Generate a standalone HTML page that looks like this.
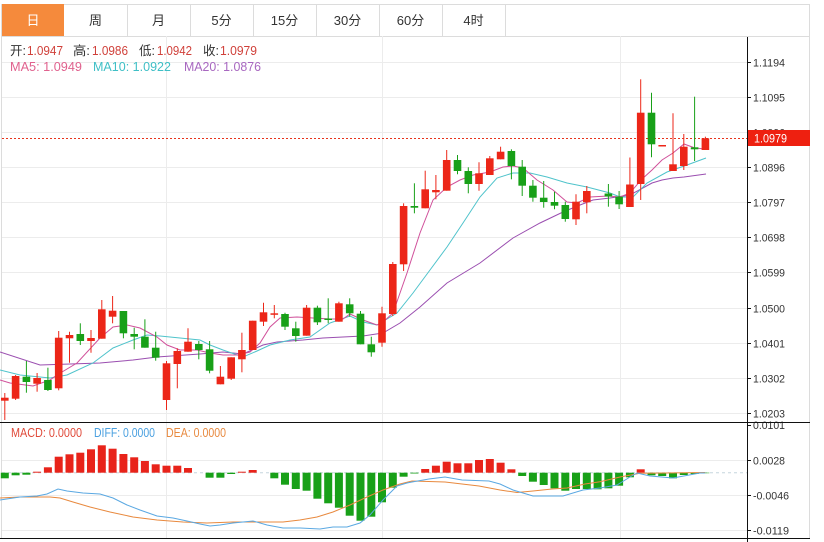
<!DOCTYPE html>
<html><head><meta charset="utf-8"><style>
html,body{margin:0;padding:0;background:#fff;width:824px;height:542px;overflow:hidden}
svg{display:block}
text{font-family:"Liberation Sans","Noto Sans CJK SC",sans-serif}
</style></head><body>
<svg width="824" height="542" viewBox="0 0 824 542" xmlns="http://www.w3.org/2000/svg">
<!-- tab bar -->
<rect x="1.5" y="4.5" width="808" height="32" fill="#fff" stroke="#dcdcdc"/>
<rect x="2" y="4" width="62" height="32" fill="#f58a3c"/>
<g stroke="#dcdcdc"><line x1="127.5" y1="4" x2="127.5" y2="36"/><line x1="190.5" y1="4" x2="190.5" y2="36"/><line x1="253.5" y1="4" x2="253.5" y2="36"/><line x1="316.5" y1="4" x2="316.5" y2="36"/><line x1="379.5" y1="4" x2="379.5" y2="36"/><line x1="442.5" y1="4" x2="442.5" y2="36"/><line x1="505.5" y1="4" x2="505.5" y2="36"/></g>
<g font-size="13" text-anchor="middle" fill="#333">
<text x="33" y="25" fill="#fff">日</text><text x="95.5" y="25">周</text><text x="158.5" y="25">月</text><text x="221.5" y="25">5分</text><text x="284.5" y="25">15分</text><text x="347.5" y="25">30分</text><text x="410.5" y="25">60分</text><text x="473.5" y="25">4时</text>
</g>
<!-- borders -->
<line x1="1.5" y1="36" x2="1.5" y2="539" stroke="#dcdcdc"/>
<line x1="809.5" y1="36" x2="809.5" y2="539" stroke="#dcdcdc"/>
<!-- grid -->
<g stroke="#ececec" stroke-width="1">
<line x1="2" y1="62.5" x2="747" y2="62.5"/><line x1="2" y1="97.5" x2="747" y2="97.5"/><line x1="2" y1="132.5" x2="747" y2="132.5"/><line x1="2" y1="167.5" x2="747" y2="167.5"/><line x1="2" y1="202.5" x2="747" y2="202.5"/><line x1="2" y1="237.5" x2="747" y2="237.5"/><line x1="2" y1="272.5" x2="747" y2="272.5"/><line x1="2" y1="308.5" x2="747" y2="308.5"/><line x1="2" y1="343.5" x2="747" y2="343.5"/><line x1="2" y1="378.5" x2="747" y2="378.5"/><line x1="2" y1="413.5" x2="747" y2="413.5"/>
<line x1="2" y1="460.5" x2="747" y2="460.5"/><line x1="2" y1="495.5" x2="747" y2="495.5"/><line x1="2" y1="530.5" x2="747" y2="530.5"/>
<line x1="166.5" y1="36" x2="166.5" y2="538"/><line x1="382.5" y1="36" x2="382.5" y2="538"/><line x1="620.5" y1="36" x2="620.5" y2="538"/>
</g>
<!-- legend -->
<g font-size="12.5">
<text x="10" y="55" fill="#333" textLength="16" lengthAdjust="spacingAndGlyphs">开:</text><text x="27" y="55" fill="#d0403a" textLength="36" lengthAdjust="spacingAndGlyphs">1.0947</text>
<text x="73" y="55" fill="#333" textLength="17" lengthAdjust="spacingAndGlyphs">高:</text><text x="92" y="55" fill="#d0403a" textLength="36" lengthAdjust="spacingAndGlyphs">1.0986</text>
<text x="139" y="55" fill="#333" textLength="16" lengthAdjust="spacingAndGlyphs">低:</text><text x="157" y="55" fill="#d0403a" textLength="35" lengthAdjust="spacingAndGlyphs">1.0942</text>
<text x="203" y="55" fill="#333" textLength="16" lengthAdjust="spacingAndGlyphs">收:</text><text x="220" y="55" fill="#d0403a" textLength="37" lengthAdjust="spacingAndGlyphs">1.0979</text>
<text x="10" y="71" fill="#e0628e" textLength="72" lengthAdjust="spacingAndGlyphs">MA5: 1.0949</text>
<text x="93" y="71" fill="#3fbfc6" textLength="78" lengthAdjust="spacingAndGlyphs">MA10: 1.0922</text>
<text x="184" y="71" fill="#a868c0" textLength="77" lengthAdjust="spacingAndGlyphs">MA20: 1.0876</text>
</g>
<!-- current price dotted -->
<line x1="2" y1="138.5" x2="747" y2="138.5" stroke="#e8341c" stroke-dasharray="2,2"/>
<!-- MA lines -->
<g fill="none" stroke-width="1">
<polyline stroke="#9a4eb0" points="0,352 40,365 100,363 133,360 157,357 200,354 223,352 243,354 263,345 277,342 303,340 323,338 343,337 363,336 383,333 400,323 420,307 447,283 480,263 513,238 540,223 563,212 580,205 593,200 610,198 630,195 641,189 652,183 662,180 673,178 684,177 706,174"/>
<polyline stroke="#4fc3cb" points="0,370 20,375 50,378 67,375 93,363 113,348 133,340 147,335 160,336 180,338 200,340 210,345 223,350 243,357 257,351 270,345 290,340 310,337 330,323 350,316 363,322 377,325 382,322 397,313 413,293 430,270 447,247 463,223 480,197 497,178 513,173 530,173 547,177 567,183 587,187 610,193 620,197 633,197 647,183 667,172 687,165 706,158"/>
<polyline stroke="#d0509a" points="0,380 10,383 33,386 50,380 57,375 77,363 100,338 113,327 127,325 140,328 157,337 167,345 180,350 197,350 210,353 223,355 237,355 250,352 260,343 270,327 280,318 297,317 313,318 330,319 343,319 350,314 363,320 377,325 382,323 393,313 407,273 420,233 433,200 447,187 460,180 473,175 490,172 503,167 513,166 523,168 537,180 553,190 567,202 577,203 590,197 608,196 620,197 630,193 641,180 652,170 662,160 673,153 684,144 695,148 705,149"/>
</g>
<!-- candles -->
<g id="c">
<g stroke="#ec2618" fill="#ec2618">
<line x1="4.8" y1="393" x2="4.8" y2="420"/><rect x="1" y="397.7" width="7.6" height="3" stroke="none"/>
<line x1="15.6" y1="375" x2="15.6" y2="400"/><rect x="11.8" y="376" width="7.6" height="22.7" stroke="none"/>
<line x1="37.1" y1="373" x2="37.1" y2="391.7"/><rect x="33.3" y="378" width="7.6" height="5.7" stroke="none"/>
<line x1="58.7" y1="331" x2="58.7" y2="390.3"/><rect x="54.9" y="337.7" width="7.6" height="50.6" stroke="none"/>
<line x1="69.5" y1="331.7" x2="69.5" y2="362.7"/><rect x="65.7" y="335" width="7.6" height="3.3" stroke="none"/>
<line x1="91" y1="330" x2="91" y2="352.7"/><rect x="87.2" y="338" width="7.6" height="3" stroke="none"/>
<line x1="101.8" y1="300" x2="101.8" y2="338.7"/><rect x="98" y="309.3" width="7.6" height="29.4" stroke="none"/>
<line x1="112.6" y1="296" x2="112.6" y2="323.3"/><rect x="108.8" y="310.7" width="7.6" height="6" stroke="none"/>
<line x1="166.5" y1="361" x2="166.5" y2="410"/><rect x="162.7" y="363.3" width="7.6" height="36.7" stroke="none"/>
<line x1="177.3" y1="348.3" x2="177.3" y2="388.3"/><rect x="173.5" y="351" width="7.6" height="13" stroke="none"/>
<line x1="188" y1="328.3" x2="188" y2="351.7"/><rect x="184.2" y="341.7" width="7.6" height="10" stroke="none"/>
<line x1="220.4" y1="366" x2="220.4" y2="384.3"/><rect x="216.6" y="376.7" width="7.6" height="7.6" stroke="none"/>
<line x1="231.2" y1="357.3" x2="231.2" y2="380"/><rect x="227.4" y="357.3" width="7.6" height="21.4" stroke="none"/>
<line x1="241.9" y1="332.7" x2="241.9" y2="372.3"/><rect x="238.1" y="350" width="7.6" height="9.3" stroke="none"/>
<line x1="252.7" y1="320.7" x2="252.7" y2="350"/><rect x="248.9" y="320.7" width="7.6" height="29.3" stroke="none"/>
<line x1="263.5" y1="302.7" x2="263.5" y2="326"/><rect x="259.7" y="312.3" width="7.6" height="9.4" stroke="none"/>
<line x1="274.3" y1="305" x2="274.3" y2="318.3"/><rect x="270.5" y="313.3" width="7.6" height="1.5" stroke="none"/>
<line x1="306.6" y1="305" x2="306.6" y2="335.7"/><rect x="302.8" y="307.7" width="7.6" height="28" stroke="none"/>
<line x1="338.9" y1="301.7" x2="338.9" y2="321.7"/><rect x="335.1" y="303.3" width="7.6" height="18.4" stroke="none"/>
<line x1="382" y1="306.7" x2="382" y2="346.7"/><rect x="378.2" y="313.3" width="7.6" height="29.4" stroke="none"/>
<line x1="392.8" y1="262" x2="392.8" y2="316"/><rect x="389" y="264" width="7.6" height="50" stroke="none"/>
<line x1="403.6" y1="203.3" x2="403.6" y2="271"/><rect x="399.8" y="206" width="7.6" height="58.3" stroke="none"/>
<line x1="425.2" y1="170.7" x2="425.2" y2="208.3"/><rect x="421.4" y="189.3" width="7.6" height="19" stroke="none"/>
<line x1="435.9" y1="175" x2="435.9" y2="199.3"/><rect x="432.1" y="190" width="7.6" height="2.3" stroke="none"/>
<line x1="446.7" y1="150" x2="446.7" y2="190.7"/><rect x="442.9" y="160" width="7.6" height="30.7" stroke="none"/>
<line x1="479" y1="162.3" x2="479" y2="190.7"/><rect x="475.2" y="173.3" width="7.6" height="10.7" stroke="none"/>
<line x1="489.8" y1="156" x2="489.8" y2="175"/><rect x="486" y="158.3" width="7.6" height="16.7" stroke="none"/>
<line x1="500.6" y1="146.7" x2="500.6" y2="159.3"/><rect x="496.8" y="151.7" width="7.6" height="7.6" stroke="none"/>
<line x1="576" y1="194.3" x2="576" y2="225"/><rect x="572.2" y="201.7" width="7.6" height="17.6" stroke="none"/>
<line x1="586.8" y1="186" x2="586.8" y2="213.3"/><rect x="583" y="191" width="7.6" height="11.3" stroke="none"/>
<line x1="629.9" y1="157.5" x2="629.9" y2="207"/><rect x="626.1" y="184.5" width="7.6" height="22.5" stroke="none"/>
<line x1="640.7" y1="79.3" x2="640.7" y2="200"/><rect x="636.9" y="112.7" width="7.6" height="71.3" stroke="none"/>
<rect x="658.4" y="145" width="7.6" height="1.5" stroke="none"/>
<line x1="673" y1="113.3" x2="673" y2="171"/><rect x="669.2" y="164.3" width="7.6" height="6.7" stroke="none"/>
<line x1="683.8" y1="134" x2="683.8" y2="170"/><rect x="680" y="146.7" width="7.6" height="19.3" stroke="none"/>
<line x1="705.4" y1="136.7" x2="705.4" y2="150"/><rect x="701.6" y="138.3" width="7.6" height="11.7" stroke="none"/>
</g>
<g stroke="#18a018" fill="#18a018">
<line x1="26.4" y1="361" x2="26.4" y2="392.7"/><rect x="22.6" y="376.7" width="7.6" height="5.3" stroke="none"/>
<line x1="47.9" y1="367.7" x2="47.9" y2="391"/><rect x="44.1" y="380" width="7.6" height="10" stroke="none"/>
<line x1="80.3" y1="323.3" x2="80.3" y2="345"/><rect x="76.5" y="334" width="7.6" height="7" stroke="none"/>
<line x1="123.4" y1="311" x2="123.4" y2="338.3"/><rect x="119.6" y="311" width="7.6" height="22.3" stroke="none"/>
<line x1="134.2" y1="327.7" x2="134.2" y2="349.3"/><rect x="130.4" y="334" width="7.6" height="2.7" stroke="none"/>
<line x1="144.9" y1="319.3" x2="144.9" y2="347.7"/><rect x="141.1" y="336.7" width="7.6" height="11" stroke="none"/>
<line x1="155.7" y1="331.7" x2="155.7" y2="360.7"/><rect x="151.9" y="347.7" width="7.6" height="10" stroke="none"/>
<line x1="198.8" y1="341" x2="198.8" y2="359.3"/><rect x="195" y="344" width="7.6" height="6" stroke="none"/>
<line x1="209.6" y1="341" x2="209.6" y2="373.3"/><rect x="205.8" y="349.3" width="7.6" height="21.4" stroke="none"/>
<line x1="285" y1="312.7" x2="285" y2="330"/><rect x="281.2" y="314" width="7.6" height="12.7" stroke="none"/>
<line x1="295.8" y1="321.7" x2="295.8" y2="341.7"/><rect x="292" y="328.3" width="7.6" height="7.7" stroke="none"/>
<line x1="317.4" y1="305.7" x2="317.4" y2="325"/><rect x="313.6" y="307.7" width="7.6" height="14.6" stroke="none"/>
<line x1="328.2" y1="298.3" x2="328.2" y2="323.3"/><rect x="324.4" y="318.5" width="7.6" height="1.5" stroke="none"/>
<line x1="349.7" y1="298.3" x2="349.7" y2="316.7"/><rect x="345.9" y="304.3" width="7.6" height="9" stroke="none"/>
<line x1="360.5" y1="311" x2="360.5" y2="344.3"/><rect x="356.7" y="313.7" width="7.6" height="30.6" stroke="none"/>
<line x1="371.3" y1="336.7" x2="371.3" y2="356.7"/><rect x="367.5" y="344.3" width="7.6" height="8" stroke="none"/>
<line x1="414.4" y1="183.3" x2="414.4" y2="213.3"/><rect x="410.6" y="206" width="7.6" height="1.7" stroke="none"/>
<line x1="457.5" y1="155" x2="457.5" y2="174.3"/><rect x="453.7" y="160" width="7.6" height="11" stroke="none"/>
<line x1="468.3" y1="167.3" x2="468.3" y2="193.3"/><rect x="464.5" y="171" width="7.6" height="13" stroke="none"/>
<line x1="511.4" y1="149.3" x2="511.4" y2="179.3"/><rect x="507.6" y="151" width="7.6" height="15" stroke="none"/>
<line x1="522.2" y1="160" x2="522.2" y2="196"/><rect x="518.4" y="166.7" width="7.6" height="19" stroke="none"/>
<line x1="532.9" y1="180" x2="532.9" y2="201.7"/><rect x="529.1" y="185.7" width="7.6" height="12" stroke="none"/>
<line x1="543.7" y1="181" x2="543.7" y2="207.7"/><rect x="539.9" y="197.7" width="7.6" height="4.3" stroke="none"/>
<line x1="554.5" y1="191.7" x2="554.5" y2="209.3"/><rect x="550.7" y="202" width="7.6" height="3.7" stroke="none"/>
<line x1="565.3" y1="201.7" x2="565.3" y2="221.7"/><rect x="561.5" y="205" width="7.6" height="14" stroke="none"/>
<line x1="608.4" y1="184" x2="608.4" y2="206.7"/><rect x="604.6" y="193.5" width="7.6" height="3" stroke="none"/>
<line x1="619.1" y1="191" x2="619.1" y2="209"/><rect x="615.3" y="196.7" width="7.6" height="7.6" stroke="none"/>
<line x1="651.5" y1="92.7" x2="651.5" y2="157.3"/><rect x="647.7" y="112.7" width="7.6" height="31.6" stroke="none"/>
<line x1="694.6" y1="96.7" x2="694.6" y2="161"/><rect x="690.8" y="147.3" width="7.6" height="2" stroke="none"/>
</g>
</g>
<!-- separator lines -->
<line x1="0" y1="422.5" x2="810" y2="422.5" stroke="#111"/>
<line x1="0" y1="538.5" x2="810" y2="538.5" stroke="#111"/>
<line x1="747.5" y1="37" x2="747.5" y2="542" stroke="#111"/>
<!-- MACD zero line -->
<line x1="2" y1="472.7" x2="747" y2="472.7" stroke="#c5d5de" stroke-dasharray="3,3"/>
<!-- MACD bars -->
<g fill="#e8231a">
<rect x="33.1" y="471.7" width="8" height="1"/><rect x="43.9" y="467.3" width="8" height="5.4"/><rect x="54.7" y="456.7" width="8" height="16"/><rect x="65.5" y="454.3" width="8" height="18.4"/><rect x="76.3" y="452.7" width="8" height="20"/><rect x="87" y="449.3" width="8" height="23.4"/><rect x="97.8" y="445.3" width="8" height="27.4"/><rect x="108.6" y="448.7" width="8" height="24"/><rect x="119.4" y="454" width="8" height="18.7"/><rect x="130.2" y="457.3" width="8" height="15.4"/><rect x="140.9" y="461" width="8" height="11.7"/><rect x="151.7" y="464.3" width="8" height="8.4"/><rect x="162.5" y="465.7" width="8" height="7"/><rect x="173.3" y="465.7" width="8" height="7"/><rect x="184" y="468" width="8" height="4.7"/>
<rect x="237.9" y="471.7" width="8" height="1"/><rect x="248.7" y="470" width="8" height="2.7"/>
<rect x="421.2" y="469" width="8" height="3.7"/><rect x="431.9" y="465.7" width="8" height="7"/><rect x="442.7" y="461.7" width="8" height="11"/><rect x="453.5" y="463.3" width="8" height="9.4"/><rect x="464.3" y="463.3" width="8" height="9.4"/><rect x="475" y="460" width="8" height="12.7"/><rect x="485.8" y="459" width="8" height="13.7"/><rect x="496.6" y="462.7" width="8" height="10"/><rect x="507.4" y="469.3" width="8" height="3.4"/>
<rect x="636.7" y="469.3" width="8" height="3.4"/>
</g>
<g fill="#18a018">
<rect x="0.8" y="472.7" width="8" height="5.6"/><rect x="11.6" y="472.7" width="8" height="2.6"/><rect x="22.4" y="472.7" width="8" height="2"/>
<rect x="205.6" y="472.7" width="8" height="5"/><rect x="216.4" y="472.7" width="8" height="5"/><rect x="227.2" y="472.7" width="8" height="1.3"/>
<rect x="270.3" y="472.7" width="8" height="5.6"/><rect x="281" y="472.7" width="8" height="12"/><rect x="291.8" y="472.7" width="8" height="16.3"/><rect x="302.6" y="472.7" width="8" height="18"/><rect x="313.4" y="472.7" width="8" height="26"/><rect x="324.2" y="472.7" width="8" height="30.6"/><rect x="334.9" y="472.7" width="8" height="35"/><rect x="345.7" y="472.7" width="8" height="43"/><rect x="356.5" y="472.7" width="8" height="48"/><rect x="367.3" y="472.7" width="8" height="44"/><rect x="378" y="472.7" width="8" height="29.6"/><rect x="388.8" y="472.7" width="8" height="15"/><rect x="399.6" y="472.7" width="8" height="4"/><rect x="410.4" y="472.7" width="8" height="0.8"/>
<rect x="518.2" y="472.7" width="8" height="3.3"/><rect x="528.9" y="472.7" width="8" height="9"/><rect x="539.7" y="472.7" width="8" height="12.3"/><rect x="550.5" y="472.7" width="8" height="15.6"/><rect x="561.3" y="472.7" width="8" height="18"/><rect x="572" y="472.7" width="8" height="16.3"/><rect x="582.8" y="472.7" width="8" height="16.3"/><rect x="593.6" y="472.7" width="8" height="16.6"/><rect x="604.4" y="472.7" width="8" height="15.6"/><rect x="615.1" y="472.7" width="8" height="13"/><rect x="625.9" y="472.7" width="8" height="4.6"/>
<rect x="647.5" y="472.7" width="8" height="2.6"/><rect x="658.2" y="472.7" width="8" height="3.3"/><rect x="669" y="472.7" width="8" height="5.6"/><rect x="679.8" y="472.7" width="8" height="2.3"/><rect x="690.6" y="472.7" width="8" height="1.3"/><rect x="701.4" y="472.7" width="8" height="0.5"/>
</g>
<!-- DIFF / DEA -->
<g fill="none" stroke-width="1">
<polyline stroke="#e8893e" points="0,498 20,497 33,497 50,497 60,498 73,502 90,507 110,512 133,517 157,520 183,522 207,523 233,522 253,522 283,522 300,520 317,517 333,512 350,505 367,497 383,490 400,484 412,481 445,482 479,486 500,490 517,492.5 533,491 552,489 567,488 585,484 600,481.7 620,477 640,473.3 665,473 705,472.5"/>
<polyline stroke="#5aa8e2" points="0,500 20,497 37,496 47,494 58,489 67,491 83,493 100,494 113,498 127,505 140,510 157,516 173,518 187,521 200,524 210,526 220,525 233,523 253,521 267,525 283,528 300,528 320,529 333,527 347,527 360,523 370,515 383,500 397,486 407,483 412,482 429,479 445,477 462,480 489,481 500,484 513,490 533,496 563,496 583,490 600,488 617,485 630,477 637,473 650,476 673,478 700,473 705,473"/>
</g>
<!-- MACD legend -->
<g font-size="12.5">
<text x="11" y="437" fill="#e04a3a" textLength="71" lengthAdjust="spacingAndGlyphs">MACD: 0.0000</text>
<text x="94" y="437" fill="#4aa0e0" textLength="61" lengthAdjust="spacingAndGlyphs">DIFF: 0.0000</text>
<text x="166" y="437" fill="#e88a40" textLength="60" lengthAdjust="spacingAndGlyphs">DEA: 0.0000</text>
</g>
<!-- axis ticks -->
<g stroke="#111">
<line x1="747" y1="62.5" x2="751" y2="62.5"/><line x1="747" y1="97.5" x2="751" y2="97.5"/><line x1="747" y1="167.5" x2="751" y2="167.5"/><line x1="747" y1="202.5" x2="751" y2="202.5"/><line x1="747" y1="237.5" x2="751" y2="237.5"/><line x1="747" y1="272.5" x2="751" y2="272.5"/><line x1="747" y1="308.5" x2="751" y2="308.5"/><line x1="747" y1="343.5" x2="751" y2="343.5"/><line x1="747" y1="378.5" x2="751" y2="378.5"/><line x1="747" y1="413.5" x2="751" y2="413.5"/>
<line x1="747" y1="425.5" x2="751" y2="425.5"/><line x1="747" y1="460.5" x2="751" y2="460.5"/><line x1="747" y1="495.5" x2="751" y2="495.5"/><line x1="747" y1="530.5" x2="751" y2="530.5"/>
</g>
<g font-size="11" fill="#333">
<text x="753" y="66.5" textLength="32" lengthAdjust="spacingAndGlyphs">1.1194</text>
<text x="753" y="101.5" textLength="32" lengthAdjust="spacingAndGlyphs">1.1095</text>
<text x="753" y="136.5" textLength="32" lengthAdjust="spacingAndGlyphs">1.0996</text>
<text x="753" y="171.5" textLength="32" lengthAdjust="spacingAndGlyphs">1.0896</text>
<text x="753" y="206.5" textLength="32" lengthAdjust="spacingAndGlyphs">1.0797</text>
<text x="753" y="241.5" textLength="32" lengthAdjust="spacingAndGlyphs">1.0698</text>
<text x="753" y="276.5" textLength="32" lengthAdjust="spacingAndGlyphs">1.0599</text>
<text x="753" y="312.5" textLength="32" lengthAdjust="spacingAndGlyphs">1.0500</text>
<text x="753" y="347.5" textLength="32" lengthAdjust="spacingAndGlyphs">1.0401</text>
<text x="753" y="382.5" textLength="32" lengthAdjust="spacingAndGlyphs">1.0302</text>
<text x="753" y="417.5" textLength="32" lengthAdjust="spacingAndGlyphs">1.0203</text>
<text x="753" y="429" textLength="32" lengthAdjust="spacingAndGlyphs">0.0101</text>
<text x="753" y="464.5" textLength="32" lengthAdjust="spacingAndGlyphs">0.0028</text>
<text x="753" y="499.5" textLength="36" lengthAdjust="spacingAndGlyphs">-0.0046</text>
<text x="753" y="534.5" textLength="36" lengthAdjust="spacingAndGlyphs">-0.0119</text>
</g>
<line x1="747" y1="422.5" x2="810" y2="422.5" stroke="#111"/>
<!-- current price label -->
<rect x="748" y="130" width="62" height="16" fill="#ee2010"/>
<text x="754" y="142.5" font-size="12" fill="#fff" textLength="33" lengthAdjust="spacingAndGlyphs">1.0979</text>
</svg>
</body></html>
